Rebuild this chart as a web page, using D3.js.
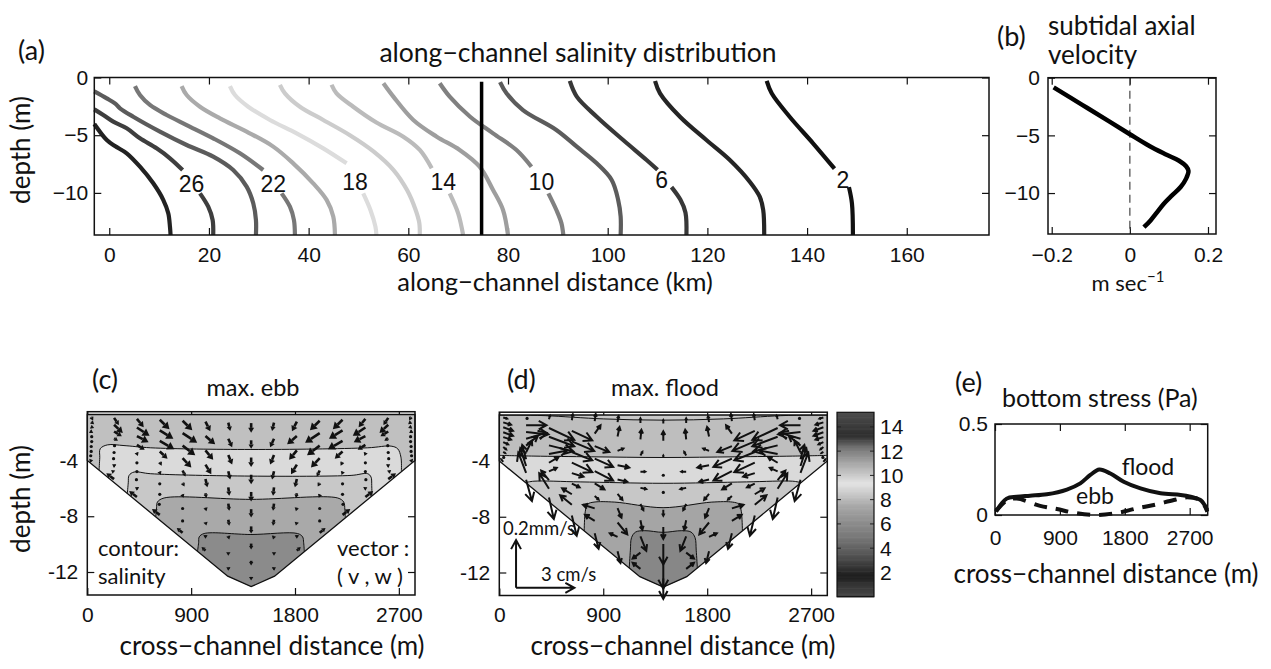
<!DOCTYPE html>
<html>
<head>
<meta charset="utf-8">
<script src="https://cdn.jsdelivr.net/npm/d3@7"></script>
<style>
  body { margin: 0; background: #fff; }
  text { font-family: Lato, "Open Sans", sans-serif; fill: #111; }
</style>
</head>
<body>
<svg id="fig" width="1271" height="669"></svg>
<script>
// ---------------- data: (a) salinity contours, [km, depth] ----------------
const salLevels = [28, 26, 24, 22, 20, 18, 16, 14, 12, 10, 8, 6, 4, 2];
const sal28 = [[[-3,-4.03],[-0.5,-5.42],[1.14,-5.94],[3.5,-6.57],[6.16,-7.73],[8.83,-9.17],[10.83,-10.6],[11.84,-11.77],[12.18,-12.93],[12.3,-13.65]]];
const sal26 = [[[-3,-2.76],[-1.2,-3.25],[0.8,-3.83],[3.5,-4.4],[6.16,-5.27],[9.5,-6.14],[12.18,-7.0],[14.72,-8.02]],
               [[18.2,-10.04],[19.86,-11.2],[20.74,-12.35],[20.86,-13.65]]];
const sal24 = [[[-3,-1.21],[-0.5,-1.81],[1.14,-2.24],[2.15,-2.67],[4.81,-3.4],[10.17,-4.69],[15.53,-5.85],[20.86,-6.86],[24.87,-8.02],[27.56,-9.46],[28.89,-10.9],[29.43,-12.35],[29.43,-13.65]]];
const sal22 = [[[5.16,-0.74],[6.16,-1.52],[8.16,-2.38],[11.51,-3.25],[15.53,-4.12],[20.86,-5.27],[26.22,-6.57],[30.89,-8.02]],
               [[34.58,-10.04],[36.25,-11.2],[37.05,-12.35],[37.25,-13.65]]];
const sal20 = [[[14.52,-0.74],[15.53,-1.52],[18.2,-2.53],[22.21,-3.54],[27.56,-4.69],[32.9,-5.99],[36.91,-7.44],[40.92,-9.17],[43.61,-10.61],[44.94,-12.05],[45.28,-13.65]]];
const sal18 = [[[24.21,-0.74],[25.22,-1.52],[27.88,-2.53],[32.24,-3.68],[37.59,-4.84],[42.93,-6.14],[47.62,-7.44]],
               [[50.95,-10.04],[52.4,-11.48],[53.4,-12.93],[53.6,-13.65]]];
const sal16 = [[[34.24,-0.63],[35.25,-1.37],[38.25,-2.53],[42.93,-3.68],[48.28,-5.0],[53.0,-6.4],[57.0,-8.0],[59.8,-9.8],[61.4,-11.4],[62.2,-12.6],[62.3,-13.65]]];
const sal14 = [[[44.6,-0.63],[45.6,-1.37],[48.95,-2.53],[53.6,-3.9],[59.0,-5.13],[62.3,-6.28],[64.7,-7.87]],
               [[68.3,-10.04],[70.0,-11.77],[71.0,-13.65]]];
const sal12 = [[[55.0,-0.5],[57.0,-1.66],[61.0,-3.68],[65.7,-5.13],[70.3,-6.28],[74.3,-7.73],[77.0,-9.75],[79.0,-11.48],[80.0,-13.65]]];
const sal10 = [[[66.3,-0.5],[68.3,-1.66],[72.4,-3.4],[77.0,-4.84],[81.7,-6.28],[84.7,-7.73]],
               [[88.1,-10.04],[89.7,-11.48],[90.7,-12.6],[91.1,-13.65]]];
const sal8  = [[[78.4,-0.4],[79.7,-1.37],[83.0,-2.82],[89.7,-4.55],[93.8,-6.0],[97.8,-7.44],[100.8,-8.88],[102.1,-10.61],[102.6,-12.05],[102.6,-13.65]]];
const sal6  = [[[92.4,-0.3],[93.8,-1.66],[97.8,-3.4],[103.1,-5.42],[107.8,-7.15],[110.0,-8.0]],
               [[112.8,-9.5],[114.6,-10.6],[115.6,-11.7],[115.8,-13.65]]];
const sal4  = [[[109.5,-0.3],[110.5,-1.37],[114.5,-3.4],[119.8,-5.42],[124.5,-7.15],[128.5,-9.03],[130.5,-10.33],[131.2,-11.48],[131.4,-13.65]]];
const sal2  = [[[131.9,-0.3],[132.9,-1.37],[136.5,-3.4],[141.2,-5.7],[145.5,-7.9]],
               [[148.4,-9.5],[149.0,-10.9],[149.2,-13.65]]];
const salLines = [sal28, sal26, sal24, sal22, sal20, sal18, sal16, sal14, sal12, sal10, sal8, sal6, sal4, sal2];
const labelText  = ["26", "22", "18", "14", "10", "6", "2"];
const labelKm    = [16.5, 32.9, 49.3, 67.0, 86.7, 110.8, 147.2];
const labelDepth = [-9.17, -9.17, -9.03, -9.03, -9.03, -8.88, -8.88];
const stationKm = 74.7, stationTop = -0.36;

// ---------------- data: (b) subtidal axial velocity ----------------
const bDepth = [-0.84,-2.35,-3.77,-4.9,-5.9,-6.63,-7.2,-7.68,-8.08,-8.75,-9.48,-10.2,-10.92,-11.65,-12.37,-12.96];
const bVel   = [-0.195,-0.122,-0.054,0,0.049,0.091,0.126,0.144,0.15,0.144,0.13,0.108,0.087,0.07,0.053,0.036];

// ---------------- data: (c)/(d) cross-section ----------------
const bedX = [0, 1217, 1420, 1623, 2840];
const bedZ = [-4, -12.3, -13.05, -12.3, -4];
const surfZ = -0.7;
const colX = [34, 232, 430, 628, 826, 1024, 1222, 1420, 1618, 1816, 2014, 2212, 2410, 2608, 2806];
const sigmaLev = [0.05, 0.15, 0.25, 0.35, 0.45, 0.55, 0.65, 0.75, 0.85, 0.95];

// salinity isolines (x m, depth m) and band salinity between them
const ebbIso = [
  [[102,-4.7],[108,-3.8],[112,-3.16],[174,-2.88],[318,-2.93],[550,-3.09],[1418,-3.21],[2430,-3.09],[2633,-2.97],[2690,-3.16],[2718,-3.76],[2722,-4.75]],
  [[347,-6.37],[355,-5.6],[362,-5.07],[405,-4.83],[550,-4.95],[1418,-5.12],[2286,-5.07],[2430,-4.95],[2459,-5.19],[2465,-5.8],[2467,-6.55]],
  [[593,-8.05],[600,-7.4],[608,-6.98],[666,-6.69],[1418,-6.79],[2170,-6.69],[2222,-6.98],[2232,-7.5],[2236,-8.1]],
  [[955,-10.52],[965,-9.9],[970,-9.48],[1013,-9.24],[1418,-9.31],[1822,-9.24],[1866,-9.48],[1875,-9.9],[1881,-10.55]]
];
const ebbBand = [8.25, 9.1, 10.1, 11.0, 11.75];
const floodIso = [
  [[0,-0.7],[150,-0.7],[403,-0.75],[900,-0.98],[1418,-1.07],[1940,-0.98],[2435,-0.75],[2690,-0.7],[2840,-0.7]],
  [[0,-3.6],[300,-3.65],[800,-3.7],[1418,-3.75],[2040,-3.7],[2540,-3.65],[2840,-3.6]],
  [[227,-5.55],[300,-5.45],[700,-5.5],[1418,-5.6],[2140,-5.5],[2540,-5.45],[2613,-5.55]],
  [[735,-9.0],[745,-7.6],[765,-7.1],[820,-6.95],[1000,-6.95],[1418,-7.35],[1840,-6.95],[2020,-6.95],[2075,-7.1],[2095,-7.6],[2105,-9.0]],
  [[1125,-11.7],[1135,-10.4],[1145,-9.5],[1180,-9.1],[1260,-9.0],[1418,-9.12],[1580,-9.0],[1660,-9.1],[1695,-9.5],[1705,-10.4],[1715,-11.7]]
];
const floodBand = [8.5, 8.2, 9.1, 10.15, 11.1, 11.85];

// vectors: rows = sigma levels (surface -> bed), cols = colX; v in cm/s, w in mm/s
const vEbb = [
  [0.1,0.25,0.35,0.5,0.5,0.25,0.1,0,-0.1,-0.25,-0.5,-0.5,-0.35,-0.25,-0.1],
  [0.15,0.45,0.65,0.7,0.75,0.5,0.2,0,-0.2,-0.5,-0.75,-0.7,-0.65,-0.45,-0.15],
  [0.15,0.4,0.6,0.75,0.65,0.4,0.2,0,-0.2,-0.4,-0.65,-0.75,-0.6,-0.4,-0.15],
  [0.1,0.2,0.4,0.4,0.45,0.3,0.1,0,-0.1,-0.3,-0.45,-0.4,-0.4,-0.2,-0.1],
  [0.05,0.05,0.05,0.1,0.15,0.1,0.05,0,-0.05,-0.1,-0.15,-0.1,-0.05,-0.05,-0.05],
  [0.05,0,0,0.05,0.1,0.05,0.05,0,-0.05,-0.05,-0.1,-0.05,0,0,-0.05],
  [0,-0.05,0,0,0.05,0.05,0.05,0,-0.05,-0.05,-0.05,0,0,0.05,0],
  [0,-0.1,-0.05,0,0,0.05,0.05,0,-0.05,-0.05,0,0,0.05,0.1,0],
  [-0.05,-0.15,-0.1,-0.05,0,0,0,0,0,0,0,0.05,0.1,0.15,0.05],
  [-0.1,-0.4,-0.4,-0.4,-0.3,-0.2,-0.1,0,0.1,0.2,0.3,0.4,0.4,0.4,0.1]
];
const wEbb = [
  [-0.015,-0.03,-0.035,-0.04,-0.04,-0.04,-0.035,-0.04,-0.035,-0.04,-0.04,-0.04,-0.035,-0.03,-0.015],
  [-0.01,-0.035,-0.035,-0.035,-0.04,-0.035,-0.035,-0.035,-0.035,-0.035,-0.04,-0.035,-0.035,-0.035,-0.01],
  [-0.005,-0.02,-0.025,-0.035,-0.04,-0.04,-0.04,-0.04,-0.04,-0.04,-0.04,-0.035,-0.025,-0.02,-0.005],
  [-0.005,-0.01,-0.02,-0.03,-0.04,-0.04,-0.035,-0.04,-0.035,-0.04,-0.04,-0.03,-0.02,-0.01,-0.005],
  [0,-0.005,-0.01,-0.015,-0.025,-0.035,-0.035,-0.04,-0.035,-0.035,-0.025,-0.015,-0.01,-0.005,0],
  [0,-0.005,-0.005,-0.01,-0.015,-0.02,-0.03,-0.035,-0.03,-0.02,-0.015,-0.01,-0.005,-0.005,0],
  [0,0,-0.005,-0.005,-0.01,-0.015,-0.025,-0.03,-0.025,-0.015,-0.01,-0.005,-0.005,0,0],
  [0,0.005,0,-0.005,-0.005,-0.015,-0.015,-0.025,-0.015,-0.015,-0.005,-0.005,0,0.005,0],
  [0.005,0.01,0.005,0,-0.005,-0.01,-0.015,-0.02,-0.015,-0.01,-0.005,0,0.005,0.01,0.005],
  [0.01,0.025,0.025,0.025,0.02,0.015,0.005,-0.01,0.005,0.015,0.02,0.025,0.025,0.025,0.01]
];
const vFlood = [
  [0.2,0.1,0.05,0.05,0.05,0.05,0,0,0,-0.05,-0.05,-0.05,-0.05,-0.1,-0.2],
  [0.4,1.05,1.3,1.05,0.3,0.1,0.05,0,-0.05,-0.1,-0.3,-1.05,-1.3,-1.05,-0.4],
  [0.5,1.15,1.3,1.15,0.75,0.3,0.1,0,-0.1,-0.3,-0.75,-1.15,-1.3,-1.15,-0.5],
  [0.5,1.05,1.25,1.05,0.95,0.6,0.25,0,-0.25,-0.6,-0.95,-1.05,-1.25,-1.05,-0.5],
  [0.4,0.6,0.95,1.05,0.95,0.5,0.3,0,-0.3,-0.5,-0.95,-1.05,-0.95,-0.6,-0.4],
  [0.25,0.3,0.5,0.6,0.5,0.25,0.15,0,-0.15,-0.25,-0.5,-0.6,-0.5,-0.3,-0.25],
  [0.15,-0.2,0.4,0.4,0.2,0.2,0.1,0,-0.1,-0.2,-0.2,-0.4,-0.4,0.2,-0.15],
  [0.1,-0.3,-0.4,-0.5,-0.6,0.5,0.3,0,-0.3,-0.5,0.6,0.5,0.4,0.3,-0.1],
  [0.05,-0.4,-0.5,-0.6,-0.5,-0.4,-0.4,0,0.4,0.4,0.5,0.6,0.5,0.4,-0.05],
  [-0.1,0.3,0.25,0.25,0.2,0.15,-0.4,0,0.4,-0.15,-0.2,-0.25,-0.25,-0.3,0.1]
];
const wFlood = [
  [-0.005,0,0.015,0.025,0.03,0.025,0.02,0.015,0.02,0.025,0.03,0.025,0.015,0,-0.005],
  [-0.01,0,-0.05,-0.04,0.035,0.04,0.04,0.04,0.04,0.04,0.035,-0.04,-0.05,0,-0.01],
  [-0.015,-0.01,-0.04,-0.04,-0.025,0.01,0.015,0.01,0.015,0.01,-0.025,-0.04,-0.04,-0.01,-0.015],
  [-0.015,0.025,-0.025,-0.035,-0.035,-0.01,0,0,0,-0.01,-0.035,-0.035,-0.025,0.025,-0.015],
  [-0.01,0.04,0.015,-0.04,-0.04,-0.01,-0.005,0,-0.005,-0.01,-0.04,-0.04,0.015,0.04,-0.01],
  [-0.01,0.05,0.025,-0.015,-0.025,-0.025,-0.025,-0.025,-0.025,-0.025,-0.025,-0.015,0.025,0.05,-0.01],
  [-0.01,0.06,0.015,-0.015,-0.015,-0.04,-0.04,-0.05,-0.04,-0.04,-0.015,-0.015,0.015,0.06,-0.01],
  [-0.005,0.075,0.04,0.025,0.015,-0.05,-0.06,-0.085,-0.06,-0.05,0.015,0.025,0.04,0.075,-0.005],
  [-0.005,0.085,0.065,0.04,0.025,0.015,-0.025,-0.115,-0.025,0.015,0.025,0.04,0.065,0.085,-0.005],
  [0.01,-0.09,-0.09,-0.085,-0.065,-0.05,0.025,-0.085,0.025,-0.05,-0.065,-0.085,-0.09,-0.09,0.01]
];
const refV = 3, refW = 0.2;            // legend arrows: 3 cm/s, 0.2 mm/s
const refAt = [145, -13.1];

// colour map of the salinity colorbar (value -> gray level)
const cmapVal  = [0, 0.9, 1.7, 2.4, 3.5, 4.9, 6.2, 7.6, 8.7, 9.4, 10, 11.1, 12.25, 13.3, 15.2];
const cmapGray = [68, 56, 28, 51, 85, 119, 142, 170, 207, 227, 204, 165, 119, 46, 77];
const cbTicks = [14, 12, 10, 8, 6, 4, 2];

// ---------------- data: (e) bottom stress ----------------
const floodX = [14,162,302,487,719,997,1183,1322,1447,1600,1785,2018,2296,2574,2713,2852,2945];
const floodTau = [0.02,0.09,0.10,0.106,0.114,0.14,0.174,0.22,0.25,0.228,0.183,0.146,0.119,0.11,0.10,0.082,0.027];
const ebbX = [14,162,302,626,858,1090,1415,1739,1971,2202,2480,2666,2852,2945];
const ebbTau = [0.02,0.08,0.09,0.05,0.033,0.013,0.0,0.015,0.037,0.055,0.082,0.097,0.08,0.018];

// ---------------- helpers ----------------
const svg = d3.select("#fig");
const tickFont = "'Liberation Sans', Arial, sans-serif";
const plain = d3.format("");
const cmap = d3.scaleLinear().domain(cmapVal).range(cmapGray).clamp(true);
const gray = v => { const g = Math.round(cmap(v)); return `rgb(${g},${g},${g})`; };

function styleAxis(s) {
  s.select(".domain").remove();
  s.attr("font-size", 21).attr("font-family", tickFont);
  s.selectAll(".tick line").attr("stroke", "#111").attr("stroke-width", 1.2);
  s.selectAll(".tick text").attr("fill", "#111").style("font-family", tickFont);
}

function ticks(x, y, xt, yt, fx, fy, padX, padY) {
  const g = svg.append("g");
  const [xl, xr] = x.range(), [yb, ytop] = y.range();
  g.append("g").attr("transform", `translate(0,${yb})`)
    .call(d3.axisBottom(x).tickValues(xt).tickSize(-7).tickPadding(padX).tickFormat(fx)).call(styleAxis);
  g.append("g").attr("transform", `translate(0,${ytop})`)
    .call(d3.axisTop(x).tickValues(xt).tickSize(-7).tickFormat("")).call(styleAxis);
  g.append("g").attr("transform", `translate(${xl},0)`)
    .call(d3.axisLeft(y).tickValues(yt).tickSize(-7).tickPadding(padY).tickFormat(fy)).call(styleAxis);
  g.append("g").attr("transform", `translate(${xr},0)`)
    .call(d3.axisRight(y).tickValues(yt).tickSize(-7).tickFormat("")).call(styleAxis);
}

function border(x, y) {
  const [xl, xr] = x.range(), [yb, ytop] = y.range();
  svg.append("rect").attr("x", xl).attr("y", ytop).attr("width", xr - xl).attr("height", yb - ytop)
    .attr("fill", "none").attr("stroke", "#111").attr("stroke-width", 1.5);
}

function label(x, y, str, size, anchor, extra) {
  const t = svg.append("text").attr("x", x).attr("y", y).attr("font-size", size)
    .attr("text-anchor", anchor || "start").text(str);
  if (extra) extra(t);
  return t;
}

function yLabel(x, y, str) {
  svg.append("text").attr("transform", `translate(${x},${y}) rotate(-90)`)
    .attr("font-size", 26).attr("text-anchor", "middle").text(str);
}

// ================= (a) =================
const ax = d3.scaleLinear().domain([-3, 176.5]).range([94.3, 989]);
const ay = d3.scaleLinear().domain([-13.65, 0]).range([235, 77.5]);
ticks(ax, ay, d3.range(0, 161, 20), [0, -5, -10], plain, plain, 12, 6);
const salColor = d3.scaleLinear().domain([2, 6, 10, 14, 18, 22, 28])
  .range(["#111", "#383838", "#808080", "#bbb", "#dcdcdc", "#777", "#222"]);
const aLine = d3.line().x(d => ax(d[0])).y(d => ay(d[1])).curve(d3.curveCatmullRom.alpha(0.5));
salLines.forEach((segs, i) => {
  segs.forEach(s => svg.append("path").attr("d", aLine(s)).attr("fill", "none")
    .attr("stroke", salColor(salLevels[i])).attr("stroke-width", 4.2));
});
svg.append("line").attr("x1", ax(stationKm)).attr("x2", ax(stationKm))
  .attr("y1", ay(stationTop)).attr("y2", ay(-13.65)).attr("stroke", "#000").attr("stroke-width", 3.5);
labelText.forEach((t, i) => {
  svg.append("text").attr("x", ax(labelKm[i])).attr("y", ay(labelDepth[i])).attr("dy", "0.36em")
    .attr("text-anchor", "middle").attr("font-size", 23).style("font-family", tickFont).text(t);
});
border(ax, ay);
label(18, 60, "(a)", 27);
label(578, 62, "along\u2212channel salinity distribution", 26.5, "middle");
label(555, 291, "along\u2212channel distance (km)", 25.5, "middle");
yLabel(30, 150, "depth (m)");

// ================= (b) =================
const bx = d3.scaleLinear().domain([-0.2095, 0.2205]).range([1048, 1216]);
const by = d3.scaleLinear().domain([-13.55, 0]).range([234, 77.7]);
ticks(bx, by, [-0.2, 0, 0.2], [0, -5, -10], plain, plain, 13, 8);
svg.append("line").attr("x1", bx(0)).attr("x2", bx(0)).attr("y1", by(0)).attr("y2", by(-13.55))
  .attr("stroke", "#555").attr("stroke-width", 1.3).attr("stroke-dasharray", "8,5");
svg.append("path").datum(d3.zip(bVel, bDepth))
  .attr("d", d3.line().x(d => bx(d[0])).y(d => by(d[1])).curve(d3.curveCatmullRom.alpha(0.5)))
  .attr("fill", "none").attr("stroke", "#000").attr("stroke-width", 4.5);
border(bx, by);
label(997, 46, "(b)", 27);
label(1048, 35, "subtidal axial", 26);
label(1048, 64, "velocity", 26);
label(1128, 291, "m sec", 22, "middle", t => t.append("tspan").attr("dy", -9).attr("font-size", 15).text("\u22121"));

// ================= (c) & (d) cross sections =================
const bed = d3.scaleLinear().domain(bedX).range(bedZ);
const pxPerCm = 58.3 / 3, pxPerMm = 47.7 / 0.2;
const vScale = d3.scaleLinear().domain([0, refV]).range([0, refV * pxPerCm]);
const wScale = d3.scaleLinear().domain([0, refW]).range([0, refW * pxPerMm]);

function arrow(g, x0, y0, dx, dy, filled) {
  const len = Math.hypot(dx, dy);
  if (len < 2.2) {
    g.append("circle").attr("cx", x0 + dx / 2).attr("cy", y0 + dy / 2).attr("r", 1.6).attr("fill", "#111");
    return;
  }
  const ux = dx / len, uy = dy / len, x1 = x0 + dx, y1 = y0 + dy;
  const hl = filled ? Math.min(Math.max(len * 0.5, 3.5), 7) : Math.min(len * 0.38, 9);
  const hw = filled ? hl * 0.62 : hl * 0.55;
  const hx = x1 - ux * hl, hy = y1 - uy * hl, px = -uy * hw, py = ux * hw;
  if (filled) {
    g.append("line").attr("x1", x0).attr("y1", y0).attr("x2", hx).attr("y2", hy)
      .attr("stroke", "#111").attr("stroke-width", 2.6);
    g.append("path").attr("d", `M${x1},${y1}L${hx + px},${hy + py}L${hx - px},${hy - py}Z`).attr("fill", "#111");
  } else {
    g.append("path").attr("d", `M${x0},${y0}L${x1},${y1}M${hx + px},${hy + py}L${x1},${y1}L${hx - px},${hy - py}`)
      .attr("fill", "none").attr("stroke", "#111").attr("stroke-width", 2).attr("stroke-linejoin", "miter");
  }
}

function section(x, y, iso, band, vv, ww, filled, id) {
  const chan = [[0, surfZ], ...d3.zip(bedX, bedZ), [2840, surfZ]];
  const straight = d3.line().x(d => x(d[0])).y(d => y(d[1]));
  const smooth = d3.line().x(d => x(d[0])).y(d => y(d[1])).curve(d3.curveCatmullRom.alpha(0.5));
  svg.append("clipPath").attr("id", id).append("path").attr("d", straight(chan) + "Z");
  const cg = svg.append("g").attr("clip-path", `url(#${id})`);
  cg.append("path").attr("d", straight(chan) + "Z").attr("fill", gray(band[0]));
  iso.forEach((L, k) => {
    const last = L[L.length - 1], first = L[0];
    cg.append("path")
      .attr("d", smooth(L) + `L${x(last[0])},${y(-20)}L${x(first[0])},${y(-20)}Z`)
      .attr("fill", gray(band[k + 1]));
  });
  iso.forEach(L => cg.append("path").attr("d", smooth(L)).attr("fill", "none")
    .attr("stroke", "#111").attr("stroke-width", 1));
  svg.append("path").attr("d", straight(chan) + "Z").attr("fill", "none")
    .attr("stroke", "#111").attr("stroke-width", 1.3);
  const ag = svg.append("g");
  sigmaLev.forEach((s, j) => colX.forEach((cx, i) => {
    const z = surfZ + s * (bed(cx) - surfZ);
    arrow(ag, x(cx), y(z), vScale(vv[j][i]), -wScale(ww[j][i]), filled);
  }));
}

// (c)
const cx = d3.scaleLinear().domain([0, 2840]).range([87.3, 415]);
const cy = d3.scaleLinear().domain([-13.65, -0.5]).range([595, 411.7]);
ticks(cx, cy, [0, 900, 1800, 2700], [-4, -8, -12], d => String(d), d => String(d), 12, 9);
section(cx, cy, ebbIso, ebbBand, vEbb, wEbb, true, "clipC");
border(cx, cy);
label(92, 389, "(c)", 27);
label(253, 396, "max. ebb", 23.5, "middle");
label(98, 556, "contour:", 22);
label(98, 584, "salinity", 22);
label(337, 556, "vector :", 22);
label(337, 584, "( v , w )", 22);
label(272, 655, "cross\u2212channel distance (m)", 26, "middle");
yLabel(30, 499, "depth (m)");

// (d)
const dx = d3.scaleLinear().domain([0, 2840]).range([499.3, 827.3]);
const dy = d3.scaleLinear().domain([-13.65, -0.5]).range([595.5, 412.2]);
ticks(dx, dy, [0, 900, 1800, 2700], [-4, -8, -12], d => String(d), d => String(d), 12, 9);
section(dx, dy, floodIso, floodBand, vFlood, wFlood, false, "clipD");
// scale arrows
{
  const g = svg.append("g");
  const ox = dx(refAt[0]), oy = dy(refAt[1]);
  arrow(g, ox, oy, vScale(refV), 0, false);
  arrow(g, ox, oy, 0, -wScale(refW), false);
}
border(dx, dy);
label(507, 389, "(d)", 27);
label(665, 396, "max. flood", 23.5, "middle");
label(503, 535, "0.2mm/s", 18.5);
label(541, 581, "3 cm/s", 18.5);
label(683, 655, "cross\u2212channel distance (m)", 26, "middle");

// colorbar
const cb = d3.scaleLinear().domain([0, 15.2]).range([596.7, 412.3]);
const cbG = svg.append("g");
d3.range(0, 15.2, 0.1).forEach(v => {
  cbG.append("rect").attr("x", 837).attr("width", 37).attr("y", cb(v + 0.1)).attr("height", cb(v) - cb(v + 0.1) + 0.6)
    .attr("fill", gray(v + 0.05));
});
cbTicks.forEach(v => {
  cbG.append("line").attr("x1", 837).attr("x2", 841).attr("y1", cb(v)).attr("y2", cb(v)).attr("stroke", "#222");
  cbG.append("line").attr("x1", 870).attr("x2", 874).attr("y1", cb(v)).attr("y2", cb(v)).attr("stroke", "#222");
  cbG.append("text").attr("x", 880).attr("y", cb(v)).attr("dy", "0.36em").attr("font-size", 21)
    .style("font-family", tickFont).text(v);
});
cbG.append("rect").attr("x", 837).attr("y", 412.3).attr("width", 37).attr("height", 184.4)
  .attr("fill", "none").attr("stroke", "#111").attr("stroke-width", 1.2);

// ================= (e) =================
const ex = d3.scaleLinear().domain([0, 2950]).range([995, 1207.7]);
const ey = d3.scaleLinear().domain([0, 0.5]).range([515, 424]);
ticks(ex, ey, [0, 900, 1800, 2700], [0, 0.5], plain, plain, 15, 7);
const eLine = d3.line().x(d => ex(d[0])).y(d => ey(d[1])).curve(d3.curveCatmullRom.alpha(0.5));
svg.append("path").attr("d", eLine(d3.zip(ebbX, ebbTau))).attr("fill", "none")
  .attr("stroke", "#111").attr("stroke-width", 4).attr("stroke-dasharray", "13,9");
svg.append("path").attr("d", eLine(d3.zip(floodX, floodTau))).attr("fill", "none")
  .attr("stroke", "#111").attr("stroke-width", 4);
border(ex, ey);
label(955, 392, "(e)", 27);
label(1002, 407, "bottom stress (Pa)", 25);
label(1148, 475, "flood", 23, "middle");
label(1095, 504, "ebb", 23, "middle");
label(1106, 583, "cross\u2212channel distance (m)", 26, "middle");
</script>
</body>
</html>
